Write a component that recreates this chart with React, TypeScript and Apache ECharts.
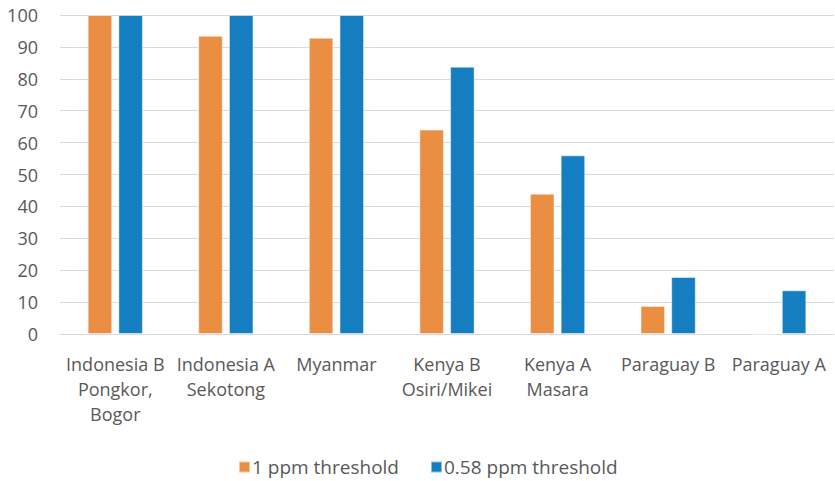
import React, { useEffect, useRef } from "react";
import * as echarts from "echarts";

const categories = [
  "Indonesia B\nPongkor,\nBogor",
  "Indonesia A\nSekotong",
  "Myanmar",
  "Kenya B\nOsiri/Mikei",
  "Kenya A\nMasara",
  "Paraguay B",
  "Paraguay A",
];
const seriesNames = ["1 ppm threshold", "0.58 ppm threshold"];
const onePpm = [100, 93.5, 92.9, 64.1, 44.0, 8.8, 0];
const point58Ppm = [100, 100, 100, 83.8, 56.0, 17.9, 13.7];
const yTicks = { min: 0, max: 100, interval: 10 };

const FONT = "'Open Sans', 'Noto Sans', sans-serif";
const TEXT = "#595959";

export default function App() {
  const ref = useRef<HTMLDivElement>(null);
  useEffect(() => {
    if (!ref.current) return;
    const chart = echarts.init(ref.current, undefined, { renderer: "svg" });
    chart.setOption({
      animation: false,
      backgroundColor: "#ffffff",
      grid: { left: 60, right: 1, top: 15, bottom: 147, containLabel: false },
      legend: {
        left: 238,
        top: 452,
        padding: 0,
        itemWidth: 11,
        itemHeight: 11,
        itemGap: 31,
        icon: "rect",
        textStyle: { color: TEXT, fontSize: 19, fontFamily: FONT, lineHeight: 30, padding: [0, 0, 0, -3] },
        data: seriesNames,
      },
      xAxis: {
        type: "category",
        data: categories,
        axisLine: { show: true, lineStyle: { color: "#D9D9D9", width: 1 } },
        axisTick: { show: false },
        axisLabel: {
          color: TEXT,
          fontSize: 18,
          fontFamily: FONT,
          lineHeight: 25,
          margin: 17,
          interval: 0,
        },
      },
      yAxis: {
        type: "value",
        min: yTicks.min,
        max: yTicks.max,
        interval: yTicks.interval,
        axisLine: { show: false },
        axisTick: { show: false },
        splitLine: { lineStyle: { color: "#D9D9D9", width: 1 } },
        axisLabel: { color: TEXT, fontSize: 18, fontFamily: FONT, margin: 22 },
      },
      series: [
        {
          name: seriesNames[0],
          type: "bar",
          data: onePpm,
          barGap: "25%",
          barCategoryGap: "50%",
          itemStyle: { color: "#EA8E43", borderColor: "rgba(255,255,255,0.5)", borderWidth: 1 },
        },
        {
          name: seriesNames[1],
          type: "bar",
          data: point58Ppm,
          barGap: "25%",
          barCategoryGap: "50%",
          itemStyle: { color: "#157EC0", borderColor: "rgba(255,255,255,0.5)", borderWidth: 1 },
        },
      ],
    });
    return () => chart.dispose();
  }, []);
  return (
    <div
      ref={ref}
      style={{ position: "fixed", left: 0, top: 0, width: 835, height: 481 }}
    />
  );
}
